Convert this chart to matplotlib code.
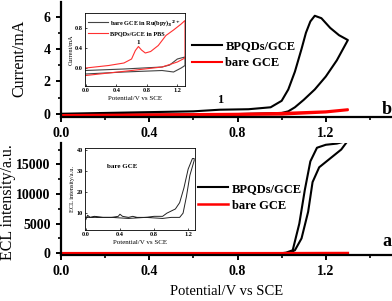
import matplotlib
matplotlib.use('Agg')
import matplotlib.pyplot as plt
from matplotlib.ticker import MultipleLocator

plt.rcParams['font.family'] = 'Liberation Serif'
plt.rcParams['font.weight'] = 'bold'

# --- panel b: CV, BPQDs/GCE (forward then return sweep)
cv_bp_x = [0.0, 0.2, 0.4, 0.6, 0.72, 0.85, 0.95, 1.0, 1.03, 1.06, 1.09, 1.11, 1.13, 1.15, 1.18, 1.22, 1.26, 1.3,
           1.25, 1.2, 1.15, 1.1, 1.06, 1.03, 1.0, 0.8, 0.4, 0.0]
cv_bp_y = [0.0, 0.05, 0.1, 0.15, 0.25, 0.28, 0.4, 0.8, 1.5, 2.6, 4.0, 5.0, 5.7, 6.05, 5.9, 5.3, 4.85, 4.55,
           3.3, 2.3, 1.5, 0.86, 0.4, 0.15, 0.05, -0.02, -0.05, -0.08]
cv_bare_x = [0.0, 0.4, 0.8, 1.0, 1.2, 1.3, 1.3, 1.2, 1.0, 0.6, 0.2, 0.0]
cv_bare_y = [-0.08, -0.04, 0.0, 0.05, 0.15, 0.28, 0.22, 0.08, -0.05, -0.1, -0.13, -0.15]

# inset of panel b
in_ru_x = [0.0, 0.5, 1.0, 1.1, 1.2, 1.3, 1.3, 1.25, 1.15, 1.0, 0.5, 0.0]
in_ru_y = [-0.05, -0.02, 0.02, 0.06, 0.18, 0.22, 0.05, 0.0, -0.08, -0.05, -0.08, -0.12]
in_pbs_x = [0.0, 0.3, 0.5, 0.6, 0.65, 0.69, 0.73, 0.78, 0.85, 0.95, 1.05, 1.15, 1.25, 1.3,
            1.3, 1.2, 1.0, 0.6, 0.3, 0.0]
in_pbs_y = [0.0, 0.05, 0.1, 0.18, 0.35, 0.43, 0.36, 0.3, 0.33, 0.45, 0.65, 0.76, 0.88, 0.95,
            0.2, 0.12, 0.02, -0.05, -0.1, -0.15]

# --- panel a: ECL
ecl_bp_x = [0.0, 0.5, 1.0, 1.02, 1.05, 1.08, 1.105, 1.13, 1.16, 1.2, 1.25, 1.3,
            1.27, 1.22, 1.17, 1.14, 1.12, 1.09, 1.06, 1.03, 0.5, 0.0]
ecl_bp_y = [0, 0, 0, 100, 500, 5000, 10700, 15500, 17800, 18300, 18500, 19000,
            17500, 16000, 14500, 12000, 7000, 2500, 500, 0, 0, 0]
ecl_bare_x = [0.0, 0.4, 0.8, 1.0, 1.2, 1.3]
ecl_bare_y = [8, 9, 8, 11, 31, 36]

# inset of panel a
in_ecl_x = [0.0, 0.02, 0.05, 0.1, 0.2, 0.3, 0.38, 0.4, 0.43, 0.5, 0.55, 0.6, 0.7, 0.8, 0.9, 0.95, 1.0, 1.05,
            1.1, 1.15, 1.2, 1.25, 1.27,
            1.27, 1.22, 1.18, 1.14, 1.1, 1.0, 0.9, 0.7, 0.5, 0.3, 0.1, 0.0]
in_ecl_y = [7, 9, 8, 8.5, 8, 8, 8.5, 9.5, 8.5, 8, 8.5, 8, 8, 8.5, 8.5, 10, 11, 12,
            15, 22, 31, 36, 36,
            35, 28, 18, 10, 8, 8, 7.5, 8, 7.5, 8, 8, 8]

W, H = 392, 301
fig = plt.figure(figsize=(W / 100, H / 100), dpi=100)


def box(l, t, r, b):
    return [l / W, 1 - b / H, (r - l) / W, (b - t) / H]


def style_main(ax):
    for s in ['top', 'right']:
        ax.spines[s].set_visible(False)
    for s in ['left', 'bottom']:
        ax.spines[s].set_linewidth(1.6)
    ax.tick_params(which='major', direction='out', length=3.5, width=1.4, labelsize=10, pad=4)
    ax.tick_params(which='minor', direction='out', length=2.5, width=1.2)
    ax.set_xlim(0, 1.5)
    ax.xaxis.set_major_locator(MultipleLocator(0.4))
    ax.xaxis.set_minor_locator(MultipleLocator(0.2))
    ax.xaxis.set_major_formatter(plt.FormatStrFormatter('%.1f'))


def style_inset(ax):
    for s in ax.spines.values():
        s.set_linewidth(0.6)
    ax.tick_params(which='both', direction='in', length=1.5, width=0.5, labelsize=4.5, pad=1.5)


# top panel (b)
ax1 = fig.add_axes(box(61, 2, 392, 117))
style_main(ax1)
ax1.plot(cv_bp_x, cv_bp_y, color='black', lw=1.5, label='BPQDs/GCE')
ax1.plot(cv_bare_x, cv_bare_y, color='red', lw=1.5, label='bare GCE')
ax1.set_ylim(-0.2, 6.9)
ax1.yaxis.set_major_locator(MultipleLocator(2))
ax1.yaxis.set_minor_locator(MultipleLocator(1))
ax1.set_ylabel('Current/mA', fontsize=11.5)
ax1.yaxis.set_label_coords(-0.103, 0.51)
ax1.text(0.72, 0.5, '1', fontsize=9, ha='center', va='bottom')
ax1.text(1.475, 0.25, 'b', fontsize=13, ha='center', va='center')
ax1.legend(loc='upper left', bbox_to_anchor=(0.395, 0.665), frameon=False, fontsize=9,
           borderaxespad=0, borderpad=0, handlelength=2.4, handletextpad=0.3, labelspacing=0.35)

# top inset
ins1 = fig.add_axes(box(85, 13, 185, 86))
style_inset(ins1)
ins1.plot(in_ru_x, in_ru_y, color='#444444', lw=0.8, label='bare GCE in Ru(bpy)$_3$$^{2+}$')
ins1.plot(in_pbs_x, in_pbs_y, color='#ff3030', lw=0.8, label='BPQDs/GCE in PBS')
ins1.set_xlim(-0.01, 1.3)
ins1.set_ylim(-0.36, 1.1)
ins1.xaxis.set_major_locator(MultipleLocator(0.4))
ins1.yaxis.set_major_locator(MultipleLocator(0.4))
ins1.xaxis.set_major_formatter(plt.FormatStrFormatter('%.1f'))
ins1.yaxis.set_major_formatter(plt.FormatStrFormatter('%.1f'))
ins1.set_xlabel('Potential/V vs SCE', fontsize=5, labelpad=2)
ins1.set_ylabel('Current/mA', fontsize=4.5, labelpad=1)
ins1.text(0.69, 0.47, '1', fontsize=5, ha='center', va='bottom')
ins1.legend(loc='upper left', bbox_to_anchor=(0.03, 0.93), frameon=False, fontsize=4.5,
            borderaxespad=0, borderpad=0, handlelength=3.2, handletextpad=0.4, labelspacing=0.5)

# bottom panel (a)
ax2 = fig.add_axes(box(61, 143, 392, 255))
style_main(ax2)
ax2.plot(ecl_bp_x, ecl_bp_y, color='black', lw=1.5, label='BPQDs/GCE')
ax2.plot(ecl_bare_x, ecl_bare_y, color='red', lw=1.8, label='bare GCE')
ax2.set_ylim(-300, 18600)
ax2.yaxis.set_major_locator(MultipleLocator(5000))
ax2.yaxis.set_minor_locator(MultipleLocator(2500))
ax2.set_ylabel('ECL intensity/a.u.', fontsize=11.5)
ax2.yaxis.set_label_coords(-0.137, 0.47)
ax2.set_xlabel('Potential/V vs SCE', fontsize=10.5, labelpad=5)
ax2.text(1.475, 2000, 'a', fontsize=13, ha='center', va='center')
ax2.legend(loc='upper left', bbox_to_anchor=(0.415, 0.645), frameon=False, fontsize=9,
           borderaxespad=0, borderpad=0, handlelength=2.4, handletextpad=0.3, labelspacing=0.4)

# bottom inset
ins2 = fig.add_axes(box(85, 148, 195, 230))
style_inset(ins2)
ins2.plot(in_ecl_x, in_ecl_y, color='#222222', lw=0.7)
ins2.set_xlim(-0.01, 1.28)
ins2.set_ylim(2, 41)
ins2.xaxis.set_major_locator(MultipleLocator(0.4))
ins2.yaxis.set_major_locator(MultipleLocator(10))
ins2.xaxis.set_major_formatter(plt.FormatStrFormatter('%.1f'))
ins2.set_xlabel('Potential/V vs SCE', fontsize=5, labelpad=2)
ins2.set_ylabel('ECL intensity/a.u.', fontsize=4.5, labelpad=1)
ins2.text(0.25, 32, 'bare GCE', fontsize=5, ha='left', va='center')

fig.savefig('out.png', dpi=100)
